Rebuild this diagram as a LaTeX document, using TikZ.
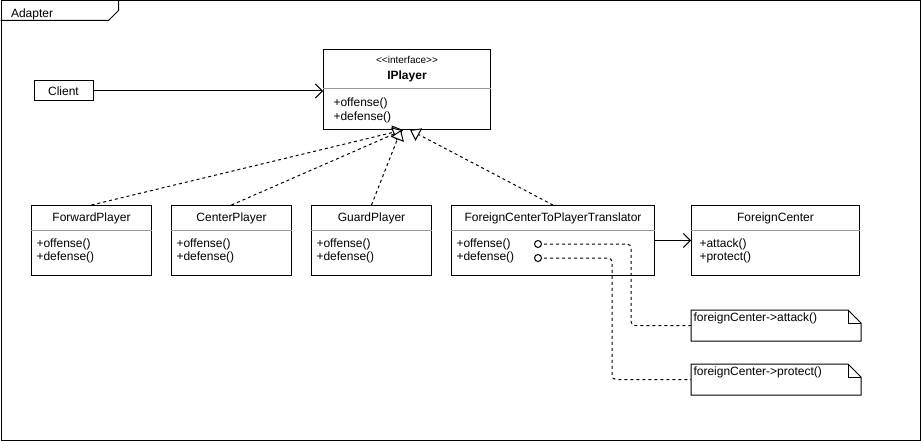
\documentclass[tikz,border=0pt]{standalone}
\usepackage{fontspec}
\setmainfont{Liberation Sans}
\usetikzlibrary{arrows.meta,positioning}

\begin{document}
\begin{tikzpicture}[x=1pt, y=-1pt, line width=1pt,
        font=\fontsize{12}{14}\selectfont,
        cls/.style={rectangle, draw, anchor=north west, inner sep=0pt, minimum height=70pt},
        clsname/.style={anchor=base, inner sep=0pt},
        ops/.style={anchor=base west, inner sep=0pt},
        sep/.style={draw=black!40},
        port/.style={circle, draw, fill=white, inner sep=0pt, minimum size=7pt},
        notebox/.style={rectangle, anchor=north west, inner sep=0pt, minimum width=169pt, minimum height=30pt},
        realize/.style={dash pattern=on 3pt off 3pt, -{Triangle[length=10pt, width=14pt, fill=white]}},
        assoc/.style={-{Straight Barb[length=7pt, width=14pt]}},
        trace/.style={dash pattern=on 3pt off 3pt, rounded corners=4pt}
    ]
        \useasboundingbox (0,0) rectangle (921,441);

        % Frame
        \node[rectangle, draw, anchor=north west, inner sep=0pt, minimum width=919pt, minimum height=439pt] (frame) at (0.5,0.5) {};
        \draw ([yshift=-20pt]frame.north west) -- ([xshift=108pt, yshift=-20pt]frame.north west)
            -- ([xshift=118pt, yshift=-10pt]frame.north west) -- ([xshift=118pt]frame.north west);
        \node[anchor=base west, inner sep=0pt] (frametitle) at ([xshift=10pt, yshift=-17pt]frame.north west) {Adapter};

        % Interface
        \node[cls, minimum width=167pt, minimum height=80pt] (iplayer) at (323,49) {};
        \node[clsname, font=\fontsize{10}{12}\selectfont] (iplayer-stereo) at ([yshift=-15pt]iplayer.north) {<{}<interface>{}>};
        \node[clsname, font=\fontsize{12}{14}\selectfont\bfseries] (iplayer-title) at ([yshift=-31pt]iplayer.north) {IPlayer};
        \draw[sep] ([yshift=-40pt]iplayer.north west) -- ([yshift=-40pt]iplayer.north east);
        \node[ops] (iplayer-off) at ([xshift=10pt, yshift=-58pt]iplayer.north west) {+offense()};
        \node[ops] (iplayer-def) at ([xshift=10pt, yshift=-72pt]iplayer.north west) {+defense()};

        % Client
        \node[rectangle, draw, minimum width=59pt, minimum height=20pt, inner sep=0pt] (client) at (63.5,91) {Client};
        \draw[assoc] (client.east) -- (client.east -| iplayer.west);

        % Players
        \foreach \cname/\ctitle/\cx in {forward/ForwardPlayer/31, center/CenterPlayer/171, guard/GuardPlayer/311} {
            \node[cls, minimum width=120pt] (\cname) at (\cx,205) {};
            \node[clsname] (\cname-title) at ([yshift=-16pt]\cname.north) {\ctitle};
            \draw[sep] ([yshift=-25pt]\cname.north west) -- ([yshift=-25pt]\cname.north east);
            \node[ops] (\cname-off) at ([xshift=5pt, yshift=-42pt]\cname.north west) {+offense()};
            \node[ops] (\cname-def) at ([xshift=5pt, yshift=-55pt]\cname.north west) {+defense()};
        }

        % Adapter class
        \node[cls, minimum width=203pt] (translator) at (451,205) {};
        \node[clsname] (translator-title) at ([yshift=-16pt]translator.north) {ForeignCenterToPlayerTranslator};
        \draw[sep] ([yshift=-25pt]translator.north west) -- ([yshift=-25pt]translator.north east);
        \node[ops] (translator-off) at ([xshift=5pt, yshift=-42pt]translator.north west) {+offense()};
        \node[ops] (translator-def) at ([xshift=5pt, yshift=-55pt]translator.north west) {+defense()};

        % Adaptee
        \node[cls, minimum width=168pt] (foreign) at (691,205) {};
        \node[clsname] (foreign-title) at ([yshift=-16pt]foreign.north) {ForeignCenter};
        \draw[sep] ([yshift=-25pt]foreign.north west) -- ([yshift=-25pt]foreign.north east);
        \node[ops] (foreign-atk) at ([xshift=8pt, yshift=-42pt]foreign.north west) {+attack()};
        \node[ops] (foreign-prot) at ([xshift=8pt, yshift=-55pt]foreign.north west) {+protect()};
        \draw[assoc] (translator.east) -- (foreign.west);

        % Notes
        \node[notebox] (note1) at (691,310) {};
        \node[notebox] (note2) at (691,364) {};
        \foreach \n in {note1, note2} {
            \draw (\n.north west) -- ([xshift=-13pt]\n.north east) -- ([yshift=-13pt]\n.north east)
                -- (\n.south east) -- (\n.south west) -- cycle;
            \draw ([xshift=-13pt]\n.north east) |- ([yshift=-13pt]\n.north east);
        }
        \node[ops] (note1-text) at ([xshift=2pt, yshift=-11pt]note1.north west) {foreignCenter->attack()};
        \node[ops] (note2-text) at ([xshift=2pt, yshift=-11pt]note2.north west) {foreignCenter->protect()};

        % Realization
        \draw[realize] (forward.north) -- ([xshift=80pt]iplayer.south west);
        \draw[realize] (center.north) -- ([xshift=80pt]iplayer.south west);
        \draw[realize] (guard.north) -- ([xshift=78pt]iplayer.south west);
        \draw[realize] (translator.north) -- ([xshift=87pt]iplayer.south west);

        % Ports and traces
        \draw[trace] ([xshift=87pt, yshift=-39pt]translator.north west) -| ([xshift=-60pt]note1.west) -- (note1.west);
        \draw[trace] ([xshift=87pt, yshift=-53pt]translator.north west) -| ([xshift=-79pt]note2.west) -- (note2.west);
        \node[port] (offport) at ([xshift=87pt, yshift=-39pt]translator.north west) {};
        \node[port] (defport) at ([xshift=87pt, yshift=-53pt]translator.north west) {};
    \end{tikzpicture}
\end{document}
